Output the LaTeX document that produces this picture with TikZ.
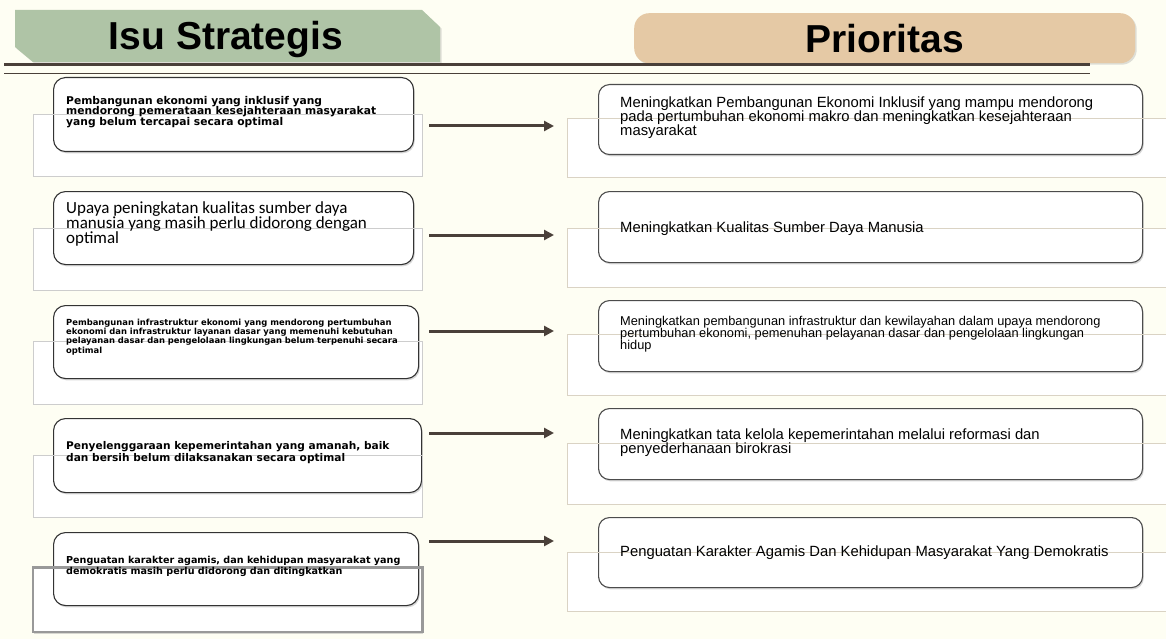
\documentclass[tikz,border=0pt]{standalone}
\usepackage{fontspec}
\setmainfont{Liberation Sans}
\newfontfamily\dvb{DejaVu Sans}
\newfontfamily\carl{Carlito}
\usetikzlibrary{shadows,arrows.meta}
\definecolor{bg}{RGB}{254,254,243}
\definecolor{sage}{RGB}{175,196,166}
\definecolor{tanc}{RGB}{229,201,165}
\definecolor{rulec}{RGB}{74,64,57}
\definecolor{lgrey}{RGB}{205,205,205}
\definecolor{rgrey}{RGB}{218,211,196}
\begin{document}
\begin{tikzpicture}[x=1pt,y=-1pt,
  shad/.style={drop shadow={opacity=0.3,shadow xshift=1.2pt,shadow yshift=-1.8pt}},
  lbox/.style={draw=black!80,line width=1.1pt,fill=white,rounded corners=12pt,inner sep=0pt,anchor=north west,shad},
  rbox/.style={draw=black!70,line width=1.1pt,fill=white,rounded corners=11pt,inner sep=0pt,anchor=north west,shad},
  backrect/.style={fill=white,draw=none,inner sep=0pt,anchor=north west},
  lline/.style={draw=lgrey,line width=0.9pt},
  rline/.style={draw=rgrey,line width=1pt},
  conn/.style={draw=rulec,line width=3pt,-{Triangle[length=10pt,width=10pt]}},
  txt/.style={anchor=north west,inner sep=0pt,align=left,text=black},
  hdr/.style={font=\bfseries\fontsize{39}{39}\selectfont,text=black}
]
\path[use as bounding box,fill=bg] (0,0) rectangle (1166,639);

% headers
\fill[sage,drop shadow={opacity=0.25,shadow xshift=1.5pt,shadow yshift=-1.5pt}] (15,10) -- (422,10) -- (440,27) -- (440,62) -- (33,62) -- (15,47) -- cycle;
\node[hdr,anchor=base] (hIsu) at (226,50) {Isu Strategis};
\node[fill=tanc,rounded corners=15pt,anchor=north west,minimum width=501pt,minimum height=50pt,inner sep=0pt,hdr,
  drop shadow={opacity=0.25,shadow xshift=1.5pt,shadow yshift=-1.5pt}] (hPri) at (634,13) {Prioritas};
\draw[rulec,line width=3.8pt] (4,64.5) -- (1090,64.5);
\draw[rulec,line width=1.4pt] (4,73.5) -- (1090,73.5);

% background rectangles (fill)
\node[backrect,minimum width=389pt,minimum height=62pt] (G1) at (33,114) {};
\node[backrect,minimum width=389pt,minimum height=62pt] (G2) at (33,228) {};
\node[backrect,minimum width=389pt,minimum height=63pt] (G3) at (33,341) {};
\node[backrect,minimum width=389pt,minimum height=62pt] (G4) at (33,455) {};
\node[backrect,minimum width=389pt,minimum height=64pt,shad] (G5) at (33,567.5) {};
\node[backrect,minimum width=605pt,minimum height=58pt] (H1) at (567,119) {};
\node[backrect,minimum width=605pt,minimum height=59pt] (H2) at (567,228) {};
\node[backrect,minimum width=605pt,minimum height=61pt] (H3) at (567,334) {};
\node[backrect,minimum width=605pt,minimum height=61pt] (H4) at (567,443) {};
\node[backrect,minimum width=605pt,minimum height=59pt] (H5) at (567,552) {};

% left boxes
\node[lbox,minimum width=360pt,minimum height=74pt] (L1) at (53,77) {};
\node[lbox,minimum width=360pt,minimum height=73pt] (L2) at (53,191) {};
\node[lbox,minimum width=365pt,minimum height=73pt] (L3) at (53,305) {};
\node[lbox,minimum width=368pt,minimum height=74pt] (L4) at (53,418) {};
\node[lbox,minimum width=365pt,minimum height=73pt] (L5) at (53,532) {};

% right boxes
\node[rbox,minimum width=544pt,minimum height=70pt] (R1) at (598,84) {};
\node[rbox,minimum width=544pt,minimum height=71pt] (R2) at (598,191) {};
\node[rbox,minimum width=544pt,minimum height=71pt] (R3) at (598,300) {};
\node[rbox,minimum width=544pt,minimum height=71pt] (R4) at (598,408) {};
\node[rbox,minimum width=544pt,minimum height=70pt] (R5) at (598,517) {};

% rectangle outlines drawn over the boxes
\draw[lline] (G1.north west) rectangle (G1.south east);
\draw[lline] (G2.north west) rectangle (G2.south east);
\draw[lline] (G3.north west) rectangle (G3.south east);
\draw[lline] (G4.north west) rectangle (G4.south east);
\draw[draw=black!40,line width=2.6pt] (G5.north west) rectangle (G5.south east);
\draw[rline] (H1.north west) rectangle (H1.south east);
\draw[rline] (H2.north west) rectangle (H2.south east);
\draw[rline] (H3.north west) rectangle (H3.south east);
\draw[rline] (H4.north west) rectangle (H4.south east);
\draw[rline] (H5.north west) rectangle (H5.south east);

% left texts
\node[txt,font={\dvb\bfseries\fontsize{10.7}{10.6}\selectfont\lineskiplimit=-50pt}] (L1t) at (66,96)
  {Pembangunan ekonomi yang inklusif yang\\mendorong pemerataan kesejahteraan masyarakat\\yang belum tercapai secara optimal};
\node[txt,font={\carl\fontsize{17}{15.2}\selectfont\lineskiplimit=-50pt}] (L2t) at (66,201)
  {Upaya peningkatan kualitas sumber daya\\manusia yang masih perlu didorong dengan\\optimal};
\node[txt,font={\dvb\bfseries\fontsize{8.4}{9.2}\selectfont\lineskiplimit=-50pt}] (L3t) at (66,319)
  {Pembangunan infrastruktur ekonomi yang mendorong pertumbuhan\\ekonomi dan infrastruktur layanan dasar yang memenuhi kebutuhan\\pelayanan dasar dan pengelolaan lingkungan belum terpenuhi secara\\optimal};
\node[txt,font={\dvb\bfseries\fontsize{10.6}{11.8}\selectfont\lineskiplimit=-50pt}] (L4t) at (66,441)
  {Penyelenggaraan kepemerintahan yang amanah, baik\\dan bersih belum dilaksanakan secara optimal};
\node[txt,font={\dvb\bfseries\fontsize{9.6}{10.8}\selectfont\lineskiplimit=-50pt}] (L5t) at (66,556)
  {Penguatan karakter agamis, dan kehidupan masyarakat yang\\demokratis masih perlu didorong dan ditingkatkan};

% right texts
\node[txt,font={\fontsize{14.8}{13.8}\selectfont\lineskiplimit=-50pt}] (R1t) at (620,97)
  {Meningkatkan Pembangunan Ekonomi Inklusif yang mampu mendorong\\pada pertumbuhan ekonomi makro dan meningkatkan kesejahteraan\\masyarakat};
\node[txt,font={\fontsize{14.8}{13.8}\selectfont}] (R2t) at (620,222)
  {Meningkatkan Kualitas Sumber Daya Manusia};
\node[txt,font={\fontsize{12.8}{11.8}\selectfont\lineskiplimit=-50pt}] (R3t) at (620,316)
  {Meningkatkan pembangunan infrastruktur dan kewilayahan dalam upaya mendorong\\pertumbuhan ekonomi, pemenuhan pelayanan dasar dan pengelolaan lingkungan\\hidup};
\node[txt,font={\fontsize{14.8}{13.8}\selectfont\lineskiplimit=-50pt}] (R4t) at (620,429)
  {Meningkatkan tata kelola kepemerintahan melalui reformasi dan\\penyederhanaan birokrasi};
\node[txt,font={\fontsize{14.8}{13.8}\selectfont}] (R5t) at (620,546)
  {Penguatan Karakter Agamis Dan Kehidupan Masyarakat Yang Demokratis};

% connectors
\coordinate (A1s) at (429,126); \coordinate (A1e) at (554,126);
\coordinate (A2s) at (429,235); \coordinate (A2e) at (554,235);
\coordinate (A3s) at (429,331); \coordinate (A3e) at (554,331);
\coordinate (A4s) at (429,433); \coordinate (A4e) at (554,433);
\coordinate (A5s) at (429,541); \coordinate (A5e) at (554,541);
\draw[conn] (A1s) -- (A1e);
\draw[conn] (A2s) -- (A2e);
\draw[conn] (A3s) -- (A3e);
\draw[conn] (A4s) -- (A4e);
\draw[conn] (A5s) -- (A5e);
\end{tikzpicture}
\end{document}
